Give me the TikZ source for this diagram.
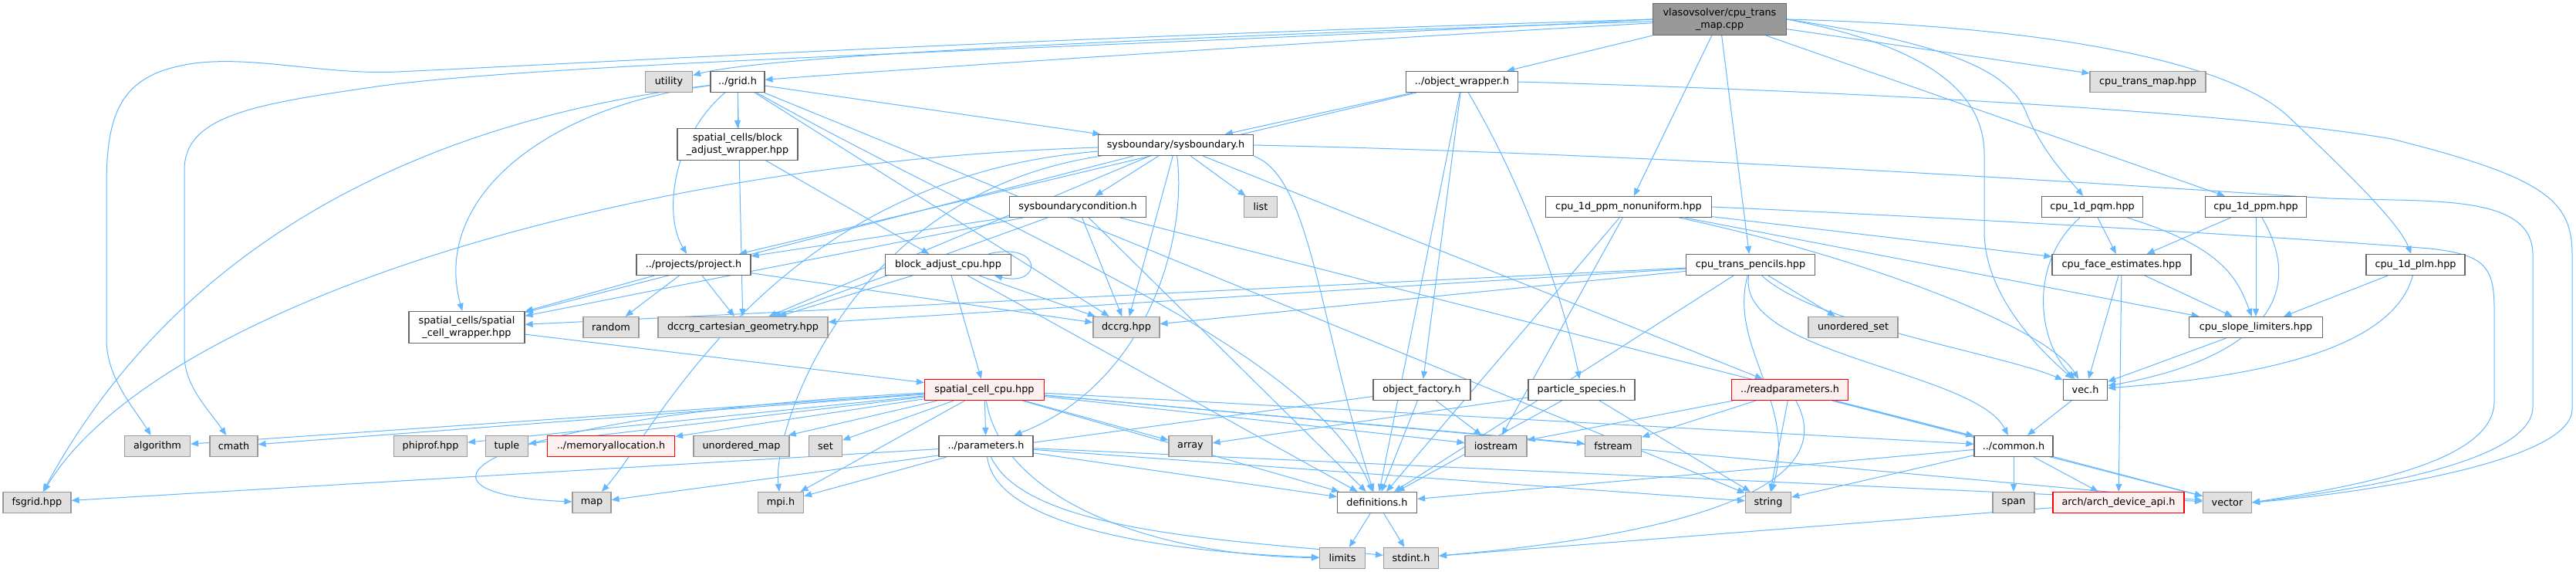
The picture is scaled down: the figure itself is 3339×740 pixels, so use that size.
\documentclass[tikz,border=0pt]{standalone}
\usepackage{fontspec}
\setmainfont{DejaVu Sans}
\usetikzlibrary{arrows.meta}
\definecolor{edgec}{HTML}{63B8FF}
\definecolor{bordc}{HTML}{666666}
\definecolor{gfill}{HTML}{E0E0E0}
\definecolor{gbord}{HTML}{999999}
\definecolor{tfill}{HTML}{999999}
\definecolor{rfill}{HTML}{FFF0F0}
\definecolor{rbord}{HTML}{FF0000}
\pgfdeclarelayer{background}
\pgfsetlayers{background,main}
\tikzset{
 nb/.style={draw, line width=1.2pt, inner sep=0pt, minimum height=27pt, font=\fontsize{12.8}{15.4}\selectfont, text=black, align=center},
 wb/.style={nb, fill=white, draw=bordc},
 gb/.style={nb, fill=gfill, draw=gbord},
 rb/.style={nb, fill=rfill, draw=rbord},
 tb/.style={nb, fill=tfill, draw=bordc},
 two/.style={minimum height=41pt},
 e/.style={draw=edgec, line width=1pt, -{Triangle[length=10pt,width=8pt]}},
}
\begin{document}
\begin{tikzpicture}[x=1pt,y=-1pt]
\useasboundingbox (0,0) rectangle (3339,740);
% row 0
\node[tb, two, minimum width=173pt] (T) at (2229,25) {vlasovsolver/cpu\_trans\\\_map.cpp};
% row 1
\node[gb, minimum width=61pt] (util) at (867,106) {utility};
\node[wb, minimum width=70pt] (grid) at (956,106) {../grid.h};
\node[wb, minimum width=145pt] (objw) at (1895,106) {../object\_wrapper.h};
\node[gb, minimum width=150pt] (tmaphpp) at (2784,106) {cpu\_trans\_map.hpp};
% row 2
\node[wb, two, minimum width=156pt] (baw) at (956,187) {spatial\_cells/block\\\_adjust\_wrapper.hpp};
\node[wb, minimum width=201pt] (sysb) at (1524,188) {sysboundary/sysboundary.h};
% row 3
\node[wb, minimum width=177pt] (sbc) at (1397,268) {sysboundarycondition.h};
\node[gb, minimum width=43pt] (list) at (1634,268) {list};
\node[wb, minimum width=215pt] (ppmnu) at (2111,268) {cpu\_1d\_ppm\_nonuniform.hpp};
\node[wb, minimum width=131pt] (pqm) at (2712,268) {cpu\_1d\_pqm.hpp};
\node[wb, minimum width=131pt] (ppm) at (2924,268) {cpu\_1d\_ppm.hpp};
% row 4
\node[wb, minimum width=148pt] (proj) at (899,343) {../projects/project.h};
\node[wb, minimum width=163pt] (bac) at (1229,343) {block\_adjust\_cpu.hpp};
\node[wb, minimum width=167pt] (pencils) at (2269,343) {cpu\_trans\_pencils.hpp};
\node[wb, minimum width=180pt] (face) at (2750,343) {cpu\_face\_estimates.hpp};
\node[wb, minimum width=128pt] (plm) at (3131,343) {cpu\_1d\_plm.hpp};
% row 5
\node[wb, two, minimum width=150pt] (scw) at (605,424) {spatial\_cells/spatial\\\_cell\_wrapper.hpp};
\node[gb, minimum width=72pt] (random) at (792,424) {random};
\node[gb, minimum width=220pt] (dcart) at (963,424) {dccrg\_cartesian\_geometry.hpp};
\node[gb, minimum width=86pt] (dccrg) at (1460,424) {dccrg.hpp};
\node[gb, minimum width=116pt] (uset) at (2402,424) {unordered\_set};
\node[wb, minimum width=173pt] (slope) at (2924,424) {cpu\_slope\_limiters.hpp};
% row 6
\node[rb, minimum width=155pt] (scc) at (1276,505) {spatial\_cell\_cpu.hpp};
\node[wb, minimum width=126pt] (objf) at (1843,505) {object\_factory.h};
\node[wb, minimum width=138pt] (parts) at (2050,505) {particle\_species.h};
\node[rb, minimum width=151pt] (readp) at (2320,505) {../readparameters.h};
\node[wb, minimum width=57pt] (vec) at (2703,505) {vec.h};
% row 7
\node[gb, minimum width=85pt] (algo) at (204,578) {algorithm};
\node[gb, minimum width=62pt] (cmath) at (303,578) {cmath};
\node[gb, minimum width=95pt] (phiprof) at (558,578) {phiprof.hpp};
\node[gb, minimum width=55pt] (tuple) at (657,578) {tuple};
\node[rb, minimum width=165pt] (memalloc) at (792,578) {../memoryallocation.h};
\node[gb, minimum width=124pt] (umap) at (961,578) {unordered\_map};
\node[gb, minimum width=43pt] (set) at (1070,578) {set};
\node[wb, minimum width=122pt] (params) at (1278,578) {../parameters.h};
\node[gb, minimum width=56pt] (array) at (1543,578) {array};
\node[gb, minimum width=80pt] (iostream) at (1939,578) {iostream};
\node[gb, minimum width=73pt] (fstream) at (2091,578) {fstream};
\node[wb, minimum width=102pt] (common) at (2610,578) {../common.h};
% row 8
\node[gb, minimum width=88pt] (fsgrid) at (48,651) {fsgrid.hpp};
\node[gb, minimum width=50pt] (map) at (767,651) {map};
\node[gb, minimum width=59pt] (mpi) at (1012,651) {mpi.h};
\node[wb, minimum width=103pt] (defs) at (1785,651) {definitions.h};
\node[gb, minimum width=59pt] (string) at (2292,651) {string};
\node[gb, minimum width=54pt] (span) at (2610,651) {span};
\node[rb, minimum width=170pt] (arch) at (2746,651) {arch/arch\_device\_api.h};
\node[gb, minimum width=63pt] (vector) at (2887,651) {vector};
% row 9
\node[gb, minimum width=59pt] (limits) at (1740,723) {limits};
\node[gb, minimum width=71pt] (stdint) at (1829,723) {stdint.h};

\begin{pgfonlayer}{background}
\fill[white] (0,0) rectangle (3339,740);
% from T
\draw[e] (T) .. controls (1600,45) and (1000,70) .. (util);
\draw[e] (T) .. controls (1600,60) and (1100,95) .. (grid);
\draw[e] (T) -- (objw);
\draw[e] (T) -- (tmaphpp);
\draw[e] (T) -- (ppmnu);
\draw[e] (T) -- (pencils);
\draw[e] (T) -- (ppm);
\draw[e] (T.east) .. controls (2550,60) and (2610,100) .. (2628,150) .. controls (2650,200) and (2680,230) .. (pqm);
\draw[e] (T.east) .. controls (2700,35) and (2900,90) .. (2965,150) .. controls (3050,230) and (3110,290) .. (plm);
\draw[e] (T.east) .. controls (2500,60) and (2572,120) .. (2572,200) -- (2572,300) .. controls (2572,380) and (2640,450) .. (vec);
\draw[e] (T.west) .. controls (1300,50) and (700,85) .. (514,93) .. controls (420,97) and (330,72) .. (252,82) .. controls (160,95) and (138,140) .. (138,240) -- (138,440) .. controls (138,490) and (175,530) .. (algo);
\draw[e] (T.west) .. controls (1500,60) and (700,80) .. (482,113) .. controls (330,135) and (239,150) .. (239,220) -- (239,460) .. controls (239,500) and (270,530) .. (cmath);
% grid
\draw[e] (grid) -- (baw);
\draw[e] (grid) -- (sysb);
\draw[e] (grid) .. controls (870,180) and (860,280) .. (proj);
\draw[e] (grid) .. controls (700,140) and (560,260) .. (scw);
\draw[e] (grid) .. controls (600,150) and (250,280) .. (fsgrid);
\draw[e] (grid) -- (dccrg);
\draw[e] (grid) -- (dcart);
\draw[e] (grid) .. controls (1300,300) and (1700,450) .. (defs);
\draw[e] (grid) -- (string);
% object wrapper
\draw[e] (objw) -- (sysb);
\draw[e] (objw) -- (proj);
\draw[e] (objw) -- (objf);
\draw[e] (objw) .. controls (1980,250) and (2030,400) .. (parts);
\draw[e] (objw) -- (defs);
\draw[e] (objw.east) .. controls (2400,118) and (2900,145) .. (3100,180) .. controls (3300,230) and (3334,260) .. (3334,330) -- (3334,530) .. controls (3334,600) and (3050,640) .. (vector.east);
% sysboundary
\draw[e] (sysb) -- (sbc);
\draw[e] (sysb) -- (list);
\draw[e] (sysb) .. controls (1000,230) and (850,560) .. (map);
\draw[e] (sysb) .. controls (1100,250) and (1000,560) .. (mpi);
\draw[e] (sysb) -- (dccrg);
\draw[e] (sysb) -- (dcart);
\draw[e] (sysb.south east) .. controls (1700,230) and (1710,420) .. (defs);
\draw[e] (sysb) .. controls (1540,320) and (1480,500) .. (params);
\draw[e] (sysb) -- (readp);
\draw[e] (sysb) -- (scw);
\draw[e] (sysb) .. controls (800,210) and (200,400) .. (fsgrid);
\draw[e] (sysb.east) .. controls (2200,200) and (2900,250) .. (3020,257) .. controls (3150,262) and (3283,250) .. (3283,330) -- (3283,527) .. controls (3283,600) and (3050,635) .. (vector.east);
% sysboundarycondition
\draw[e] (sbc) -- (proj);
\draw[e] (sbc) -- (scw);
\draw[e] (sbc) -- (dcart);
\draw[e] (sbc) -- (dccrg);
\draw[e] (sbc) -- (defs);
\draw[e] (sbc) -- (common);
% project
\draw[e] (proj) -- (scw);
\draw[e] (proj) -- (random);
\draw[e] (proj) -- (dcart);
\draw[e] (proj) -- (dccrg);
% block adjust
\draw[e] (baw) -- (bac);
\draw[e] ([xshift=-30pt]bac.north east) .. controls (1352,312) and (1352,372) .. ([xshift=-22pt]bac.south east);
\draw[e] (bac) -- (scc);
\draw[e] (bac) -- (dcart);
\draw[e] (bac) -- (dccrg);
\draw[e] (bac) -- (defs);
% spatial cell wrapper
\draw[e] (scw) -- (scc);
% pencils
\draw[e] (pencils) .. controls (2350,420) and (2600,460) .. (vec);
\draw[e] (pencils) .. controls (2250,460) and (2560,480) .. (common);
\draw[e] (pencils) -- (defs);
\draw[e] (pencils) .. controls (2240,450) and (2330,520) .. (string);
\draw[e] (pencils) -- (uset);
\draw[e] (pencils) -- (dccrg);
\draw[e] (pencils) -- (dcart);
\draw[e] (pencils) -- (scw);
% ppm nonuniform
\draw[e] (ppmnu) -- (face);
\draw[e] (ppmnu) -- (slope);
\draw[e] (ppmnu) .. controls (2400,330) and (2650,420) .. (vec);
\draw[e] (ppmnu) -- (iostream);
\draw[e] (ppmnu) -- (defs);
\draw[e] (ppmnu.east) .. controls (2600,285) and (3000,310) .. (3150,322) .. controls (3220,330) and (3233,345) .. (3233,400) -- (3233,520) .. controls (3233,600) and (3050,630) .. (vector.east);
% pqm, ppm, plm
\draw[e] (pqm) -- (face);
\draw[e] (pqm) .. controls (2880,320) and (2900,360) .. (slope);
\draw[e] (pqm) .. controls (2630,340) and (2640,440) .. (vec);
\draw[e] (ppm) -- (face);
\draw[e] (ppm) -- (slope);
\draw[e] (ppm) .. controls (3000,400) and (2900,470) .. (vec);
\draw[e] (plm) -- (slope);
\draw[e] (plm) .. controls (3100,460) and (2900,490) .. (vec);
% face, slope, vec
\draw[e] (face) -- (slope);
\draw[e] (face) -- (vec);
\draw[e] (face) -- (arch);
\draw[e] (slope) -- (vec);
\draw[e] (vec) -- (common);
% common
\draw[e] (common) -- (span);
\draw[e] (common) -- (arch);
\draw[e] (common) -- (vector);
\draw[e] (common) -- (string);
\draw[e] (common) -- (defs);
\draw[e] (arch) -- (stdint);
\draw[e] (defs) -- (limits);
\draw[e] (defs) -- (stdint);
% spatial cell cpu
\draw[e] (scc) -- (algo);
\draw[e] (scc) -- (cmath);
\draw[e] (scc) -- (phiprof);
\draw[e] (scc) -- (tuple);
\draw[e] (scc) -- (memalloc);
\draw[e] (scc) -- (umap);
\draw[e] (scc) -- (set);
\draw[e] (scc) -- (params);
\draw[e] (scc) -- (array);
\draw[e] (scc) -- (iostream);
\draw[e] (scc) -- (fstream);
\draw[e] (scc) -- (common);
\draw[e] (scc) .. controls (600,540) and (500,640) .. (map);
\draw[e] (scc) -- (mpi);
\draw[e] (scc) -- (defs);
\draw[e] (scc) -- (vector);
\draw[e] (scc) .. controls (1300,650) and (1500,720) .. (limits);
% parameters
\draw[e] (params) -- (defs);
\draw[e] (params) -- (mpi);
\draw[e] (params) -- (fsgrid);
\draw[e] (params) -- (string);
\draw[e] (params) -- (vector);
\draw[e] (params) .. controls (1290,680) and (1500,715) .. (limits);
\draw[e] (params) .. controls (1330,690) and (1600,700) .. (stdint);
% object factory, particle species
\draw[e] (objf) -- (map);
\draw[e] (objf) -- (defs);
\draw[e] (objf) -- (iostream);
\draw[e] (parts) -- (array);
\draw[e] (parts) -- (defs);
\draw[e] (parts) -- (string);
% readparameters
\draw[e] (readp) -- (iostream);
\draw[e] (readp) -- (fstream);
\draw[e] (readp) -- (string);
\draw[e] (readp) -- (vector);
\draw[e] (readp) -- (common);
\draw[e] (readp) .. controls (2400,650) and (2100,700) .. (stdint);
\end{pgfonlayer}
\end{tikzpicture}
\end{document}
